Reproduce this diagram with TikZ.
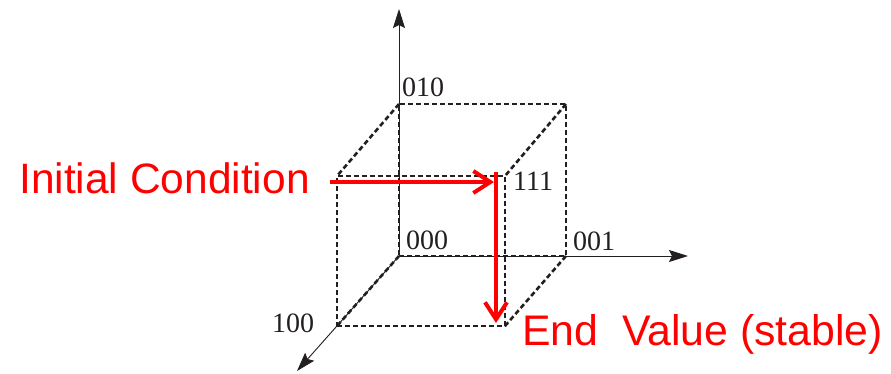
\documentclass[tikz,border=0pt]{standalone}
\usepackage{fontspec}
\setmainfont{Liberation Serif}
\newfontfamily\labelsans{Liberation Sans}
\usetikzlibrary{arrows.meta}
\definecolor{cubeblack}{HTML}{231F20}
\tikzset{
  edge/.style={draw=cubeblack, line width=2.6pt, dash pattern=on 5pt off 3pt},
  axis/.style={draw=cubeblack, line width=0.9pt, -{Stealth[length=19pt,width=12pt,inset=3pt]}},
  flow/.style={draw=red, line width=4pt, -{Straight Barb[length=17pt,width=22pt,line width=4pt]}},
  vlabel/.style={font=\fontsize{28}{28}\selectfont, text=cubeblack, inner sep=0pt, anchor=base west},
  redlabel/.style={font=\labelsans\fontsize{42.5}{42.5}\selectfont, text=red, inner sep=0pt, anchor=base west}
}
\begin{document}
\begin{tikzpicture}[x=1pt,y=-1pt]
\useasboundingbox (0,0) rectangle (891,373);
% cube corners
\coordinate (c000) at (399,256);
\coordinate (c001) at (566,256);
\coordinate (c010) at (399,104);
\coordinate (c011) at (566,104);
\coordinate (c100) at (337,326);
\coordinate (c101) at (505,326);
\coordinate (c110) at (337,176);
\coordinate (c111) at (505,176);
% axis tips
\coordinate (ytip) at (399,9);
\coordinate (xtip) at (688,256);
\coordinate (ztip) at (297,371);
% axes
\draw[axis] (c000) -- (ytip);
\draw[axis] (c000) -- (xtip);
\draw[axis] (c000) -- (ztip);
% cube edges
\draw[edge] (c000) -- (c001) -- (c011) -- (c010) -- cycle;
\draw[edge] (c100) -- (c101) -- (c111) -- (c110) -- cycle;
\draw[edge] (c000) -- (c100);
\draw[edge] (c001) -- (c101);
\draw[edge] (c010) -- (c110);
\draw[edge] (c011) -- (c111);
% vertex labels
\node[vlabel] (l010) at (402,96) {010};
\node[vlabel] (l111) at (513,190) {111};
\node[vlabel] (l000) at (406,249) {000};
\node[vlabel] (l001) at (573,250) {001};
\node[vlabel] (l100) at (272,332) {100};
% red texts
\node[redlabel] (init) at (19,193) {Initial Condition};
\node[redlabel, font=\labelsans\fontsize{42.8}{42.8}\selectfont] (endv) at (522,345) {End\ \ Value (stable)};
% red arrows
\coordinate (hstart) at (330,182);
\coordinate (hend) at (494,182);
\coordinate (vstart) at (496,172);
\coordinate (vend) at (496,323);
\draw[flow] (hstart) -- (hend);
\draw[flow] (vstart) -- (vend);
\end{tikzpicture}
\end{document}
